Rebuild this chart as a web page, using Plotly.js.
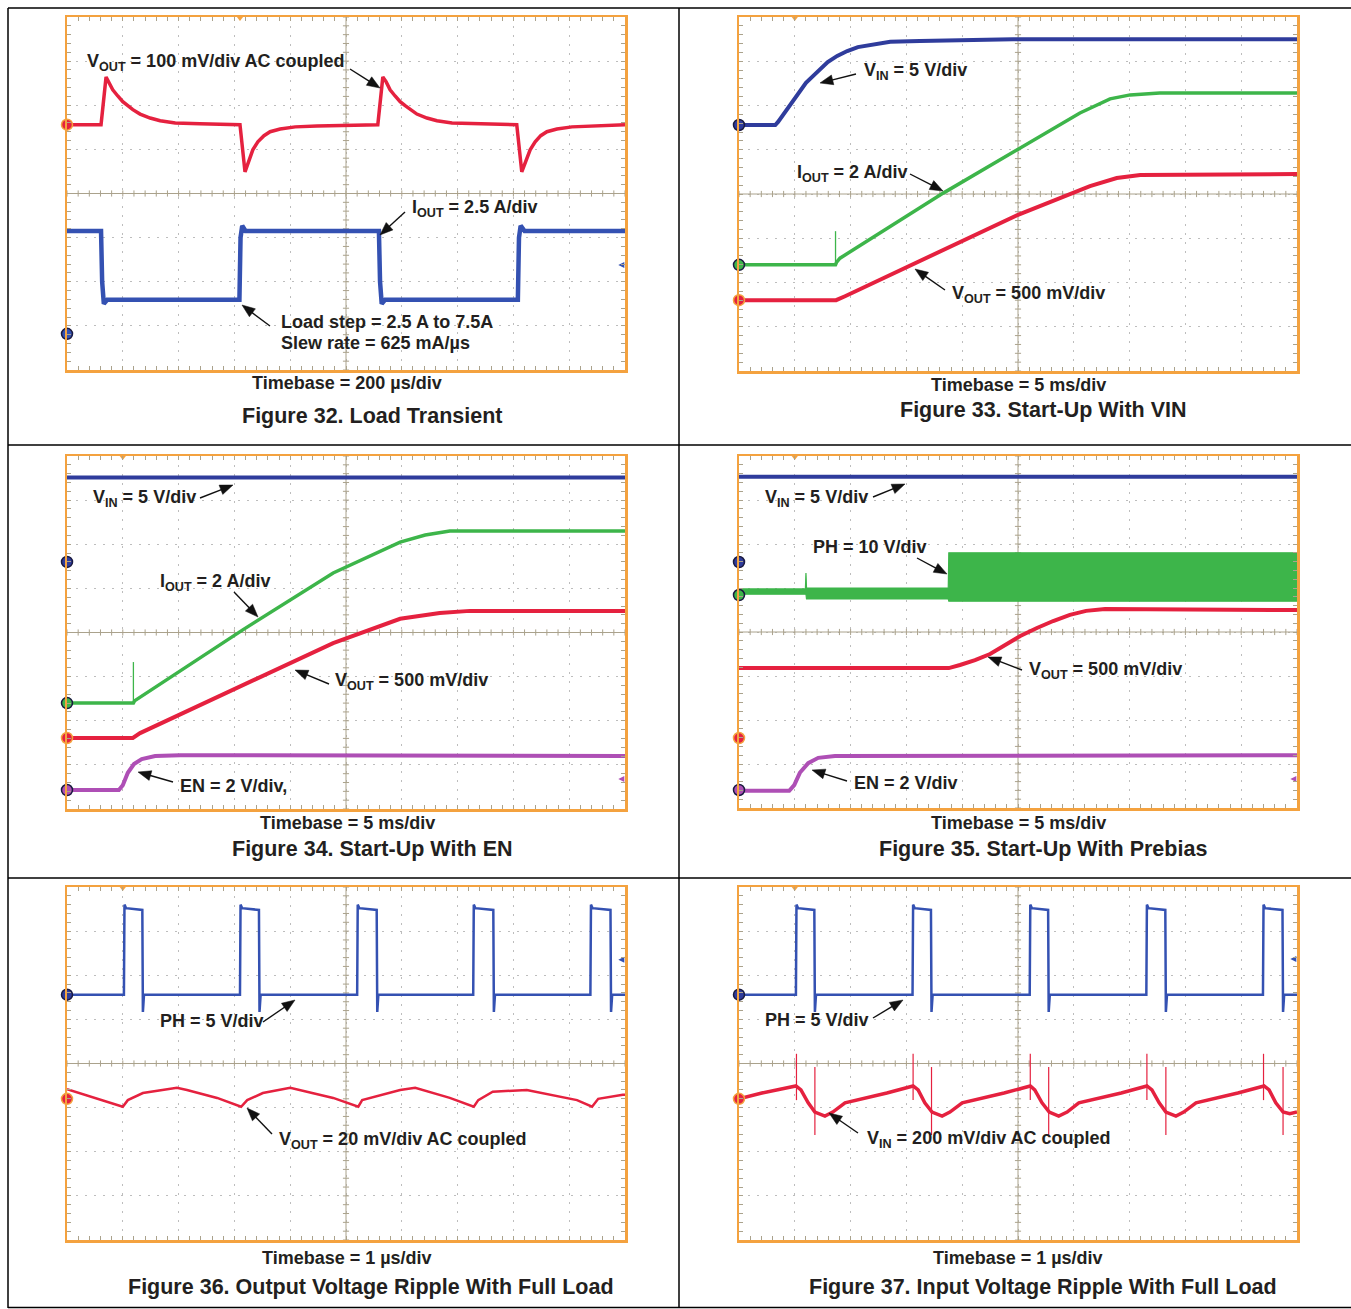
<!DOCTYPE html>
<html>
<head>
<meta charset="utf-8">
<script src="https://cdn.plot.ly/plotly-3.0.1.min.js"></script>
<style>
html,body{margin:0;padding:0;background:#ffffff;}
#chart{width:1351px;height:1309px;}
</style>
</head>
<body>
<div id="chart"></div>
<script>
// ---------------- DATA (time in divisions 0..10, level in divisions 0..8) ----------------
// Figure 32. Load Transient
const f32VoutX = [0, 0.61, 0.70, 0.75, 0.82, 0.91, 1.00, 1.09, 1.18, 1.31, 1.49, 1.67, 1.94, 2.38, 3.10, 3.19, 3.26, 3.33, 3.42, 3.53, 3.64, 3.82, 4.09, 4.48, 5.57, 5.66, 5.72, 5.79, 5.88, 5.97, 6.06, 6.15, 6.27, 6.45, 6.63, 6.90, 7.35, 8.06, 8.15, 8.23, 8.30, 8.39, 8.49, 8.60, 8.78, 9.05, 9.44, 10];
const f32VoutY = [5.56, 5.56, 6.64, 6.53, 6.35, 6.21, 6.08, 5.99, 5.90, 5.80, 5.71, 5.65, 5.60, 5.58, 5.56, 4.49, 4.76, 4.99, 5.17, 5.31, 5.40, 5.46, 5.51, 5.53, 5.56, 6.64, 6.53, 6.35, 6.21, 6.08, 5.99, 5.90, 5.80, 5.71, 5.65, 5.60, 5.58, 5.56, 4.49, 4.76, 4.99, 5.17, 5.31, 5.40, 5.46, 5.51, 5.53, 5.56];
const f32IoutX = [0, 0.61, 0.63, 0.66, 0.72, 3.09, 3.11, 3.14, 3.20, 5.59, 5.61, 5.64, 5.70, 8.08, 8.10, 8.13, 8.20, 10];
const f32IoutY = [3.15, 3.15, 2.00, 1.50, 1.59, 1.59, 3.00, 3.27, 3.15, 3.15, 2.00, 1.50, 1.59, 1.59, 3.00, 3.27, 3.15, 3.15];
const f32ChLevels = [5.56, 0.82];

// Figure 33. Start-Up With VIN
const f33VinX = [0, 0.65, 0.70, 0.79, 0.91, 1.06, 1.20, 1.33, 1.45, 1.59, 1.76, 1.94, 2.13, 2.35, 2.71, 3.24, 3.96, 4.91, 10];
const f33VinY = [5.56, 5.56, 5.63, 5.79, 6.01, 6.28, 6.51, 6.67, 6.82, 6.98, 7.12, 7.23, 7.32, 7.37, 7.44, 7.46, 7.48, 7.50, 7.50];
const f33IoutX = [0, 1.73, 1.75, 1.81, 3.66, 6.11, 6.65, 7.01, 7.54, 10];
const f33IoutY = [2.40, 2.40, 2.46, 2.55, 4.02, 5.83, 6.15, 6.24, 6.28, 6.28];
const f33SpikeX = [1.73, 1.73];
const f33SpikeY = [2.40, 3.16];
const f33VoutX = [0, 1.74, 1.90, 5.00, 6.29, 6.77, 7.19, 10];
const f33VoutY = [1.60, 1.60, 1.69, 3.53, 4.18, 4.36, 4.43, 4.45];
const f33ChLevels = [5.56, 2.40, 1.60];

// Figure 34. Start-Up With EN
const f34VinX = [0, 10];
const f34VinY = [7.51, 7.51];
const f34IoutX = [0, 1.19, 1.21, 3.15, 4.77, 5.38, 5.97, 6.42, 6.86, 10];
const f34IoutY = [2.40, 2.40, 2.45, 4.06, 5.35, 5.71, 6.05, 6.21, 6.30, 6.30];
const f34SpikeX = [1.19, 1.19];
const f34SpikeY = [2.40, 3.33];
const f34VoutX = [0, 1.18, 1.31, 2.97, 4.77, 5.97, 6.68, 7.22, 10];
const f34VoutY = [1.61, 1.61, 1.72, 2.70, 3.76, 4.31, 4.44, 4.49, 4.49];
const f34EnX = [0, 0.93, 1.00, 1.09, 1.20, 1.34, 1.58, 2.03, 10];
const f34EnY = [0.43, 0.43, 0.54, 0.82, 1.02, 1.13, 1.20, 1.22, 1.20];
const f34ChLevels = [5.60, 2.40, 1.61, 0.43];

// Figure 35. Start-Up With Prebias
const f35VinX = [0, 10];
const f35VinY = [7.53, 7.53];
const f35PhX = [0, 1.19, 1.20, 1.21, 3.75, 3.76, 10];
const f35PhHi = [4.98, 4.98, 5.34, 5.00, 5.00, 5.80, 5.80];
const f35PhLo = [4.86, 4.86, 4.86, 4.75, 4.75, 4.70, 4.70];
const f35VoutX = [0, 3.76, 3.96, 4.23, 4.50, 4.77, 5.04, 5.34, 5.63, 5.93, 6.22, 6.56, 7.01, 10];
const f35VoutY = [3.18, 3.18, 3.25, 3.36, 3.50, 3.70, 3.91, 4.09, 4.25, 4.39, 4.48, 4.52, 4.52, 4.50];
const f35EnX = [0, 0.90, 0.99, 1.09, 1.24, 1.42, 1.72, 10];
const f35EnY = [0.39, 0.39, 0.52, 0.80, 1.02, 1.14, 1.18, 1.20];
const f35ChLevels = [5.59, 4.84, 1.59, 0.41];

// Figure 36. Output Voltage Ripple With Full Load
const f36PhX = [0, 1.02, 1.03, 1.06, 1.35, 1.36, 1.38, 3.10, 3.11, 3.14, 3.44, 3.45, 3.47, 5.20, 5.21, 5.24, 5.55, 5.56, 5.58, 7.28, 7.29, 7.32, 7.64, 7.65, 7.67, 9.38, 9.39, 9.42, 9.74, 9.75, 9.77, 10];
const f36PhY = [5.56, 5.56, 7.60, 7.52, 7.48, 5.17, 5.56, 5.56, 7.60, 7.52, 7.48, 5.17, 5.56, 5.56, 7.60, 7.52, 7.48, 5.17, 5.56, 5.56, 7.60, 7.52, 7.48, 5.17, 5.56, 5.56, 7.60, 7.52, 7.48, 5.17, 5.56, 5.56];
const f36VoutX = [0, 0.50, 1.00, 1.09, 1.36, 1.97, 2.15, 2.69, 3.12, 3.23, 3.51, 4.00, 4.18, 4.77, 5.22, 5.29, 5.97, 6.24, 6.86, 7.29, 7.37, 7.63, 8.24, 9.14, 9.41, 9.52, 9.96, 10];
const f36VoutY = [3.42, 3.22, 3.02, 3.17, 3.33, 3.45, 3.40, 3.22, 3.02, 3.17, 3.33, 3.45, 3.40, 3.22, 3.02, 3.17, 3.40, 3.45, 3.22, 3.02, 3.17, 3.36, 3.40, 3.17, 3.02, 3.20, 3.29, 3.29];
const f36ChLevels = [5.56, 3.20];

// Figure 37. Input Voltage Ripple With Full Load
const f37PhX = [0, 1.02, 1.03, 1.06, 1.35, 1.36, 1.38, 3.11, 3.12, 3.15, 3.44, 3.45, 3.47, 5.21, 5.22, 5.25, 5.54, 5.55, 5.57, 7.30, 7.31, 7.34, 7.64, 7.65, 7.67, 9.39, 9.40, 9.43, 9.74, 9.75, 9.77, 10];
const f37PhY = [5.56, 5.56, 7.60, 7.52, 7.48, 5.17, 5.56, 5.56, 7.60, 7.52, 7.48, 5.17, 5.56, 5.56, 7.60, 7.52, 7.48, 5.17, 5.56, 5.56, 7.60, 7.52, 7.48, 5.17, 5.56, 5.56, 7.60, 7.52, 7.48, 5.17, 5.56, 5.56];
const f37VinX = [0, 0.41, 1.02, 1.11, 1.24, 1.36, 1.54, 1.68, 1.90, 2.28, 2.65, 3.12, 3.21, 3.33, 3.46, 3.64, 3.78, 4.00, 4.37, 4.75, 5.22, 5.30, 5.43, 5.56, 5.73, 5.88, 6.09, 6.47, 6.85, 7.31, 7.40, 7.53, 7.65, 7.83, 7.97, 8.19, 8.57, 8.94, 9.41, 9.50, 9.62, 9.75, 9.87, 10];
const f37VinY = [3.20, 3.33, 3.49, 3.40, 3.11, 2.90, 2.81, 2.90, 3.11, 3.22, 3.33, 3.49, 3.40, 3.11, 2.90, 2.81, 2.90, 3.11, 3.22, 3.33, 3.49, 3.40, 3.11, 2.90, 2.81, 2.90, 3.11, 3.22, 3.33, 3.49, 3.40, 3.11, 2.90, 2.81, 2.90, 3.11, 3.22, 3.33, 3.49, 3.40, 3.11, 2.90, 2.86, 2.90];
const f37SpikeX = [1.03, 1.36, 3.12, 3.45, 5.22, 5.55, 7.31, 7.65, 9.40, 9.75];
const f37SpikeTop = [4.22, 3.92, 4.22, 3.92, 4.22, 3.92, 4.22, 3.92, 4.22, 3.92];
const f37SpikeBot = [3.17, 2.38, 3.17, 2.38, 3.17, 2.38, 3.17, 2.38, 3.17, 2.38];
const f37ChLevels = [5.56, 3.20];

// trigger position (divisions) per figure, right-edge level markers
const trigPos = [3.10, 1.00, 1.00, 1.00, 1.00, 1.00];
const rightMarkLevels = [2.38, null, 0.68, 0.66, 6.35, 6.37];

// ---------------- LAYOUT ----------------
const W = 1351, H = 1309;
const px = v => v / W;
const py = v => 1 - v / H;
const FONT = '"Liberation Sans", Arial, Helvetica, sans-serif';
const TXT = '#231f20';
const RED = '#e5213f', BLUE = '#3451b2', NAVY = '#2f3c9c', GREEN = '#3db54a', PURPLE = '#ae4fb5';
const ORANGE = '#f4a23f', CROSS = '#aaa28c', GRID = '#bdbdbd';

// panel boxes in page pixels: left, right, top, bottom
const boxes = [[67, 625, 17, 370], [739, 1297, 17, 371], [67, 625, 456, 809], [739, 1297, 456, 808], [67, 625, 887, 1240], [739, 1297, 887, 1240]];
const sfx = n => (n === 1 ? '' : String(n));

const layout = {
  width: W, height: H, margin: {l: 0, r: 0, t: 0, b: 0},
  paper_bgcolor: '#ffffff', plot_bgcolor: '#ffffff', showlegend: false,
  font: {family: FONT, color: TXT},
  shapes: [], annotations: []
};

function axisCfg(domain, range, anchor) {
  return {
    domain: domain, range: range, anchor: anchor, fixedrange: true,
    tickmode: 'linear', tick0: 0, dtick: 1, showticklabels: false,
    showgrid: true, gridcolor: GRID, griddash: '2px,7px', gridwidth: 1,
    zeroline: false, showline: true, linecolor: ORANGE, linewidth: 2.5, mirror: 'ticks',
    ticks: 'inside', ticklen: 4, tickwidth: 1, tickcolor: CROSS,
    minor: {ticks: 'inside', tickmode: 'linear', tick0: 0, dtick: 0.2, ticklen: 4, tickwidth: 1, tickcolor: CROSS, showgrid: false}
  };
}

let hPath = '', vPath = '';
for (let t = 0; t <= 50; t++) { const x = (t * 0.2).toFixed(2); hPath += 'M' + x + ',3.93L' + x + ',4.07'; }
for (let t = 0; t <= 40; t++) { const y = (t * 0.2).toFixed(2); vPath += 'M4.945,' + y + 'L5.055,' + y; }

boxes.forEach((b, i) => {
  const n = i + 1, k = sfx(n);
  layout['xaxis' + k] = axisCfg([px(b[0]), px(b[1])], [0, 10], 'y' + k);
  layout['yaxis' + k] = axisCfg([py(b[3]), py(b[2])], [0, 8], 'x' + k);
  const xr = 'x' + k, yr = 'y' + k;
  layout.shapes.push({type: 'line', xref: xr, yref: yr, x0: 0, x1: 10, y0: 4, y1: 4, line: {color: CROSS, width: 1}, layer: 'between'});
  layout.shapes.push({type: 'line', xref: xr, yref: yr, x0: 5, x1: 5, y0: 0, y1: 8, line: {color: CROSS, width: 1}, layer: 'between'});
  layout.shapes.push({type: 'path', xref: xr, yref: yr, path: hPath, line: {color: CROSS, width: 1}, layer: 'between'});
  layout.shapes.push({type: 'path', xref: xr, yref: yr, path: vPath, line: {color: CROSS, width: 1}, layer: 'between'});
});

// table lines
const tl = {color: '#000000', width: 1.5};
[[8, W, 8, 8], [8, W, 445, 445], [8, W, 878, 878], [8, W, 1307.5, 1307.5], [8, 8, 8, 1308], [679, 679, 8, 1308]].forEach(s => {
  layout.shapes.push({type: 'line', xref: 'paper', yref: 'paper', x0: px(s[0]), x1: px(s[1]), y0: py(s[2]), y1: py(s[3]), line: tl, layer: 'above'});
});

// ---------------- TRACES ----------------
const data = [];
function addLine(n, xs, ys, color, width, extra) {
  const tr = {type: 'scatter', mode: 'lines', x: xs, y: ys, xaxis: 'x' + sfx(n), yaxis: 'y' + sfx(n),
    line: {color: color, width: width}, hoverinfo: 'skip', showlegend: false};
  data.push(Object.assign(tr, extra || {}));
}
addLine(1, f32VoutX, f32VoutY, RED, 3.5);
addLine(1, f32IoutX, f32IoutY, BLUE, 4.5);

addLine(2, f33VinX, f33VinY, NAVY, 4);
addLine(2, f33SpikeX, f33SpikeY, GREEN, 1.3);
addLine(2, f33IoutX, f33IoutY, GREEN, 3.5);
addLine(2, f33VoutX, f33VoutY, RED, 4);

addLine(3, f34VinX, f34VinY, NAVY, 4);
addLine(3, f34SpikeX, f34SpikeY, GREEN, 1.3);
addLine(3, f34IoutX, f34IoutY, GREEN, 3.5);
addLine(3, f34VoutX, f34VoutY, RED, 4);
addLine(3, f34EnX, f34EnY, PURPLE, 4);

addLine(4, f35VinX, f35VinY, NAVY, 4);
addLine(4, f35PhX, f35PhLo, GREEN, 1.2);
addLine(4, f35PhX, f35PhHi, GREEN, 1.2, {fill: 'tonexty', fillcolor: GREEN});
addLine(4, f35VoutX, f35VoutY, RED, 4);
addLine(4, f35EnX, f35EnY, PURPLE, 4);

addLine(5, f36PhX, f36PhY, BLUE, 2.5);
addLine(5, f36VoutX, f36VoutY, RED, 2.5);

addLine(6, f37PhX, f37PhY, BLUE, 2.5);
const spX = [], spY = [];
f37SpikeX.forEach((x, i) => { spX.push(x, x, null); spY.push(f37SpikeTop[i], f37SpikeBot[i], null); });
addLine(6, spX, spY, RED, 1.2);
addLine(6, f37VinX, f37VinY, RED, 3.5);

// channel ground markers, trigger markers, right-edge markers
const chSets = [
  [f32ChLevels, [RED, BLUE]],
  [f33ChLevels, [NAVY, GREEN, RED]],
  [f34ChLevels, [NAVY, GREEN, RED, PURPLE]],
  [f35ChLevels, [NAVY, GREEN, RED, PURPLE]],
  [f36ChLevels, [NAVY, RED]],
  [f37ChLevels, [NAVY, RED]]
];
chSets.forEach((s, i) => {
  const n = i + 1;
  data.push({type: 'scatter', mode: 'markers', x: s[0].map(() => 0), y: s[0], xaxis: 'x' + sfx(n), yaxis: 'y' + sfx(n),
    cliponaxis: false, hoverinfo: 'skip', showlegend: false,
    marker: {symbol: 'circle', size: 11, color: s[1], line: {color: s[1].map(c => c === RED ? ORANGE : '#1a1a40'), width: 1.5}}});
  data.push({type: 'scatter', mode: 'markers', x: [trigPos[i]], y: [8], xaxis: 'x' + sfx(n), yaxis: 'y' + sfx(n),
    cliponaxis: false, hoverinfo: 'skip', showlegend: false,
    marker: {symbol: 'triangle-down', size: 8, color: ORANGE}});
  if (rightMarkLevels[i] !== null) {
    data.push({type: 'scatter', mode: 'markers', x: [9.88], y: [rightMarkLevels[i]], xaxis: 'x' + sfx(n), yaxis: 'y' + sfx(n),
      cliponaxis: false, hoverinfo: 'skip', showlegend: false,
      marker: {symbol: 'arrow-left', size: 6, color: (i === 2 || i === 3) ? PURPLE : BLUE}});
  }
});

// ---------------- TEXT & ARROWS ----------------
function label(text, x, y, size, anchor) {
  layout.annotations.push({xref: 'paper', yref: 'paper', x: px(x), y: py(y), text: '<b>' + text + '</b>', showarrow: false,
    xanchor: anchor || 'left', yanchor: 'middle', font: {family: FONT, size: size, color: TXT}});
}
// callout arrow: head (hx,hy), tail (tx,ty) in page pixels
function arrow(hx, hy, tx, ty) {
  const dx = hx - tx, dy = hy - ty, len = Math.hypot(dx, dy);
  const ux = dx / len, uy = dy / len, L = 13, w = 5;
  const bx = hx - ux * L, by = hy - uy * L, nx = -uy, ny = ux;
  layout.shapes.push({type: 'line', xref: 'paper', yref: 'paper', x0: px(tx), y0: py(ty), x1: px(bx + ux * 2), y1: py(by + uy * 2),
    line: {color: '#111111', width: 1.4}, layer: 'above'});
  const p = 'M' + px(hx) + ',' + py(hy) + 'L' + px(bx + nx * w) + ',' + py(by + ny * w) + 'L' + px(bx - nx * w) + ',' + py(by - ny * w) + 'Z';
  layout.shapes.push({type: 'path', xref: 'paper', yref: 'paper', path: p, fillcolor: '#111111', line: {color: '#111111', width: 0.5}, layer: 'above'});
}
const LS = 18, TS = 18, FS = 21.5;

label('V<sub>OUT</sub> = 100 mV/div AC coupled', 85, 63, LS);
label('I<sub>OUT</sub> = 2.5 A/div', 410, 208, LS);
label('Load step = 2.5 A to 7.5A', 279, 322, LS);
label('Slew rate = 625 mA/µs', 279, 343, LS);
label('Timebase = 200 µs/div', 347, 383, TS, 'center');
label('Figure 32. Load Transient', 372, 416, FS, 'center');
arrow(380, 88, 350, 69);
arrow(380, 235, 405, 212);
arrow(242, 305, 270, 326);

label('V<sub>IN</sub> = 5 V/div', 862, 72, LS);
label('I<sub>OUT</sub> = 2 A/div', 795, 173, LS);
label('V<sub>OUT</sub> = 500 mV/div', 950, 294, LS);
label('Timebase = 5 ms/div', 1018, 385, TS, 'center');
label('Figure 33. Start-Up With VIN', 1043, 410, FS, 'center');
arrow(820, 83, 856, 74);
arrow(943, 191, 910, 174);
arrow(915, 269, 945, 290);

label('V<sub>IN</sub> = 5 V/div', 91, 499, LS);
label('I<sub>OUT</sub> = 2 A/div', 158, 582, LS);
label('V<sub>OUT</sub> = 500 mV/div', 333, 681, LS);
label('EN = 2 V/div,', 178, 786, LS);
label('Timebase = 5 ms/div', 347, 823, TS, 'center');
label('Figure 34. Start-Up With EN', 372, 849, FS, 'center');
arrow(233, 485, 200, 498);
arrow(258, 617, 234, 592);
arrow(295, 670, 329, 684);
arrow(138, 772, 173, 782);

label('V<sub>IN</sub> = 5 V/div', 763, 499, LS);
label('PH = 10 V/div', 811, 547, LS);
label('V<sub>OUT</sub> = 500 mV/div', 1027, 671, LS);
label('EN = 2 V/div', 852, 783, LS);
label('Timebase = 5 ms/div', 1018, 823, TS, 'center');
label('Figure 35. Start-Up With Prebias', 1043, 849, FS, 'center');
arrow(905, 484, 873, 497);
arrow(947, 574, 917, 558);
arrow(988, 657, 1022, 670);
arrow(812, 770, 847, 781);

label('PH = 5 V/div', 158, 1021, LS);
label('V<sub>OUT</sub> = 20 mV/div AC coupled', 277, 1140, LS);
label('Timebase = 1 µs/div', 347, 1258, TS, 'center');
label('Figure 36. Output Voltage Ripple With Full Load', 371, 1287, FS, 'center');
arrow(295, 1000, 263, 1022);
arrow(247, 1108, 272, 1134);

label('PH = 5 V/div', 763, 1020, LS);
label('V<sub>IN</sub> = 200 mV/div AC coupled', 865, 1139, LS);
label('Timebase = 1 µs/div', 1018, 1258, TS, 'center');
label('Figure 37. Input Voltage Ripple With Full Load', 1043, 1287, FS, 'center');
arrow(903, 1000, 873, 1018);
arrow(829, 1113, 858, 1133);

Plotly.newPlot('chart', data, layout, {displayModeBar: false, staticPlot: true});
</script>
</body>
</html>
